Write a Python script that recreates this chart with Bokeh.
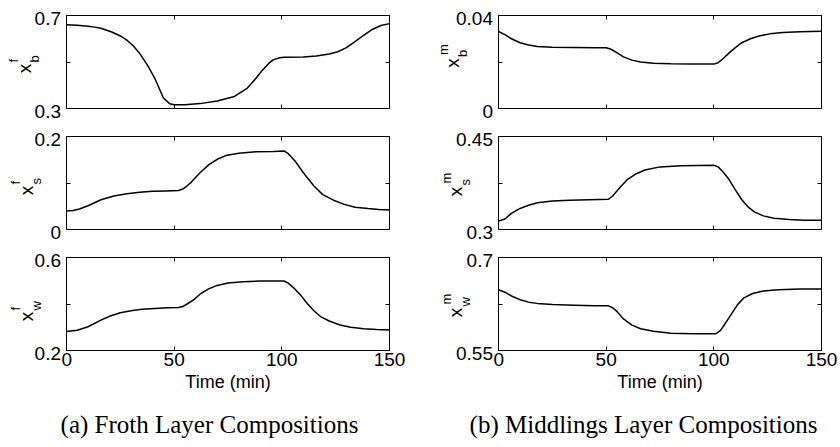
import numpy as np
from bokeh.plotting import figure
from bokeh.models import Range1d, FixedTicker, LinearAxis
from bokeh.core.properties import value
from bokeh.layouts import row, column
from bokeh.embed import file_html
from bokeh.resources import INLINE

# ---------------- data ----------------
time_ticks = [0, 50, 100, 150]
time_tick_labels = ["0", "50", "100", "150"]
x_title = "Time (min)"

# (a) froth layer
t_fb = [0, 5, 10, 13, 16, 21, 25, 28, 31, 34, 38, 41, 45, 48, 50, 55, 62, 70, 78, 84, 88, 91, 94, 96, 99, 101, 110, 116, 122, 126, 130, 134, 138, 142, 146, 150]
x_fb = [0.660, 0.658, 0.654, 0.650, 0.645, 0.629, 0.612, 0.594, 0.570, 0.537, 0.48, 0.43, 0.345, 0.320, 0.316, 0.316, 0.321, 0.332, 0.352, 0.388, 0.43, 0.465, 0.495, 0.509, 0.518, 0.520, 0.522, 0.526, 0.534, 0.544, 0.562, 0.588, 0.615, 0.640, 0.657, 0.665]

t_fs = [0, 3, 6, 10, 16, 22, 28, 34, 40, 46, 52, 54, 56, 58, 62, 66, 70, 74, 80, 88, 96, 101, 103, 106, 110, 115, 119, 124, 129, 134, 140, 145, 150]
x_fs = [0.040, 0.041, 0.044, 0.051, 0.064, 0.072, 0.077, 0.080, 0.082, 0.083, 0.084, 0.087, 0.094, 0.102, 0.122, 0.139, 0.151, 0.159, 0.164, 0.167, 0.168, 0.169, 0.163, 0.148, 0.122, 0.093, 0.075, 0.063, 0.054, 0.048, 0.045, 0.043, 0.042]

t_fw = [0, 5, 10, 16, 20, 25, 30, 35, 41, 47, 52, 54, 56, 59, 62, 66, 70, 75, 82, 90, 101, 103, 106, 109, 112, 115, 118, 122, 127, 132, 138, 144, 150]
x_fw = [0.282, 0.287, 0.302, 0.331, 0.347, 0.362, 0.371, 0.377, 0.381, 0.384, 0.385, 0.389, 0.400, 0.418, 0.442, 0.465, 0.480, 0.490, 0.496, 0.499, 0.499, 0.490, 0.465, 0.435, 0.400, 0.370, 0.346, 0.327, 0.310, 0.300, 0.294, 0.290, 0.288]

# (b) middlings layer
t_mb = [0, 3, 6, 10, 14, 18, 25, 35, 45, 50, 52, 55, 58, 62, 66, 72, 80, 90, 100, 102, 104, 107, 110, 113, 117, 121, 126, 132, 140, 150]
x_mb = [0.0331, 0.0318, 0.0300, 0.0283, 0.0273, 0.0267, 0.0263, 0.0262, 0.0261, 0.0261, 0.0256, 0.0240, 0.0222, 0.0208, 0.0200, 0.0195, 0.0192, 0.0191, 0.0191, 0.0197, 0.0212, 0.0238, 0.0262, 0.0283, 0.0300, 0.0312, 0.0321, 0.0327, 0.0330, 0.0332]

t_ms = [0, 3, 6, 10, 14, 18, 25, 33, 42, 51, 53, 55, 57, 60, 64, 68, 75, 85, 100, 102, 104, 107, 110, 113, 116, 119, 123, 128, 135, 142, 150]
x_ms = [0.3135, 0.317, 0.326, 0.334, 0.339, 0.343, 0.346, 0.347, 0.348, 0.3486, 0.354, 0.362, 0.370, 0.381, 0.390, 0.396, 0.401, 0.403, 0.4036, 0.401, 0.394, 0.381, 0.364, 0.348, 0.336, 0.328, 0.322, 0.318, 0.316, 0.315, 0.315]

t_mw = [0, 3, 6, 10, 14, 18, 25, 35, 45, 51, 53, 55, 58, 62, 66, 72, 80, 90, 101, 103, 105, 108, 111, 114, 118, 123, 130, 140, 150]
x_mw = [0.648, 0.644, 0.638, 0.632, 0.628, 0.626, 0.624, 0.623, 0.622, 0.622, 0.619, 0.613, 0.601, 0.591, 0.585, 0.581, 0.578, 0.577, 0.577, 0.582, 0.592, 0.608, 0.624, 0.635, 0.642, 0.646, 0.648, 0.649, 0.649]

# y ticks / labels per panel
yt_fb, yl_fb = [0.3, 0.5, 0.7], ["0.3", "", "0.7"]
yt_fs, yl_fs = [0.0, 0.1, 0.2], ["0", "", "0.2"]
yt_fw, yl_fw = [0.2, 0.4, 0.6], ["0.2", "", "0.6"]
yt_mb, yl_mb = [0.0, 0.02, 0.04], ["0", "", "0.04"]
yt_ms, yl_ms = [0.3, 0.375, 0.45], ["0.3", "", "0.45"]
yt_mw, yl_mw = [0.55, 0.625, 0.7], ["0.55", "", "0.7"]

captions = ["(a) Froth Layer Compositions", "(b) Middlings Layer Compositions"]

# ---------------- style / layout constants ----------------
SANS = "Liberation Sans"
SERIF = "Liberation Serif"
TICK_FS = "19px"
FRAME_W, FRAME_H = 323, 93
LAB_W_L, LAB_W_R = 61, 85          # label strip widths
PAN_LB = 5                         # panel left border
PAN_RB_L, PAN_RB_R = 19, 17
ROW_BORDERS = [(15, 14), (14, 14), (14, 50)]
CAP_H = 447 - sum(t + FRAME_H + b for t, b in ROW_BORDERS)
TOTAL_W = LAB_W_L + PAN_LB + FRAME_W + PAN_RB_L + LAB_W_R + PAN_LB + FRAME_W + PAN_RB_R
TICK_LABEL_DROP = 3                # px the y tick labels sit below their tick


def bare(width, height, xr, yr):
    f = figure(width=width, height=height, output_backend="svg", toolbar_location=None,
               x_range=xr, y_range=yr, min_border=0, min_border_left=0,
               min_border_right=0, min_border_top=0, min_border_bottom=0,
               x_axis_location=None, y_axis_location=None, frame_align=False)
    f.grid.visible = False
    f.outline_line_color = None
    f.background_fill_color = "white"
    f.border_fill_color = "white"
    return f


def make_panel(t, y, yt, right_border, top_border, bottom_border, bottom=False):
    w = PAN_LB + FRAME_W + right_border
    h = top_border + FRAME_H + bottom_border
    p = figure(width=w, height=h, output_backend="svg", toolbar_location=None,
               x_range=Range1d(0, 150), y_range=Range1d(yt[0], yt[-1]),
               min_border_left=PAN_LB, min_border_right=right_border,
               min_border_top=top_border, min_border_bottom=bottom_border,
               x_axis_location=None, y_axis_location=None, frame_align=False)
    p.background_fill_color = "white"
    p.border_fill_color = "white"
    p.outline_line_color = "black"
    p.outline_line_width = 1
    p.xgrid.visible = False
    p.ygrid.visible = False

    p.line(t, y, line_color="black", line_width=1.5)

    def tick_axis(ticks, side, labels=None):
        ax = LinearAxis(ticker=FixedTicker(ticks=ticks))
        ax.axis_line_color = None
        ax.major_tick_in = 4
        ax.major_tick_out = 0
        ax.minor_tick_line_color = None
        ax.major_tick_line_color = "black"
        ax.major_label_text_font = SANS
        ax.major_label_text_color = "black"
        if labels is None:
            ax.major_label_overrides = {v: "" for v in ticks}
            ax.major_label_standoff = 0
            ax.major_label_text_font_size = "0px"
        else:
            ax.major_label_overrides = {v: s for v, s in zip(ticks, labels)}
            ax.major_label_standoff = 2
            ax.major_label_text_font_size = TICK_FS
        p.add_layout(ax, side)
        return ax

    tick_axis(yt, "left")
    tick_axis(yt, "right")
    tick_axis(time_ticks, "above")
    bx = tick_axis(time_ticks, "below", time_tick_labels if bottom else None)
    if bottom:
        bx.axis_label = x_title
        bx.axis_label_standoff = 3
        bx.axis_label_text_font = SANS
        bx.axis_label_text_font_size = "18px"
        bx.axis_label_text_font_style = "normal"
        bx.axis_label_text_color = "black"
    return p


def make_label_strip(width, yt, yl, top_border, bottom_border, sup, sub,
                     cx, dy, sup_dx, sup_dy, sub_dx, sub_dy):
    lo, hi = yt[0], yt[-1]
    u = (hi - lo) / FRAME_H
    h = top_border + FRAME_H + bottom_border
    f = bare(width, h, Range1d(0, width), Range1d(lo - bottom_border * u, hi + top_border * u))
    # y tick labels (aligned with the panel's ticks through the same mapping)
    ty = [v - TICK_LABEL_DROP * u for v, s in zip(yt, yl) if s]
    ts = [s for s in yl if s]
    f.text(x=[width - 0.5] * len(ty), y=ty, text=ts, text_align="right",
           text_baseline="middle", text_font=value(SANS), text_font_size=TICK_FS,
           text_color="black")
    # rotated axis name: x with superscript and subscript
    cy = (lo + hi) / 2 - dy * u
    f.text(x=[cx], y=[cy], text=["x"], angle=np.pi / 2, text_align="center",
           text_baseline="middle", text_font=value(SANS), text_font_size="19px",
           text_color="black")
    f.text(x=[cx + sup_dx], y=[cy + sup_dy * u], text=[sup], angle=np.pi / 2,
           text_align="left", text_baseline="middle", text_font=value(SANS),
           text_font_size="13px", text_color="black")
    f.text(x=[cx + sub_dx], y=[cy + sub_dy * u], text=[sub], angle=np.pi / 2,
           text_align="left", text_baseline="middle", text_font=value(SANS),
           text_font_size="13px", text_color="black")
    return f


left_series = [(t_fb, x_fb, yt_fb, yl_fb, "b"), (t_fs, x_fs, yt_fs, yl_fs, "s"), (t_fw, x_fw, yt_fw, yl_fw, "w")]
right_series = [(t_mb, x_mb, yt_mb, yl_mb, "b"), (t_ms, x_ms, yt_ms, yl_ms, "s"), (t_mw, x_mw, yt_mw, yl_mw, "w")]
# label geometry per row: (x-centre in strip px, px below frame centre)
left_geo = [(24, 6.5), (26, 7.5), (26, 12.5)]
right_geo = [(452 - 408, 1), (455 - 408, 8.5), (455 - 408, 8.5)]

rows = []
for i in range(3):
    tb, bb = ROW_BORDERS[i]
    is_bottom = i == 2
    tl, yl_, ytl, yll, subl = left_series[i]
    tr, yr_, ytr, ylr, subr = right_series[i]
    labL = make_label_strip(LAB_W_L, ytl, yll, tb, bb, "f", subl,
                            left_geo[i][0], left_geo[i][1], -11, 6, 9.5, 6)
    panL = make_panel(tl, yl_, ytl, PAN_RB_L, tb, bb, bottom=is_bottom)
    labR = make_label_strip(LAB_W_R, ytr, ylr, tb, bb, "m", subr,
                            right_geo[i][0], right_geo[i][1], -9.5, 8, 9.5, 6)
    panR = make_panel(tr, yr_, ytr, PAN_RB_R, tb, bb, bottom=is_bottom)
    rows.append(row(labL, panL, labR, panR, spacing=0))

# caption strip
cap = bare(TOTAL_W, CAP_H, Range1d(0, TOTAL_W), Range1d(0, CAP_H))
cap.text(x=[209, 643], y=[CAP_H - 24] * 2, text=captions, text_align="center",
         text_baseline="middle", text_font=value(SERIF), text_font_size="25px",
         text_color="black")

layout = column(*rows, cap, spacing=0)

open("out.html", "w").write(file_html(layout, INLINE))
